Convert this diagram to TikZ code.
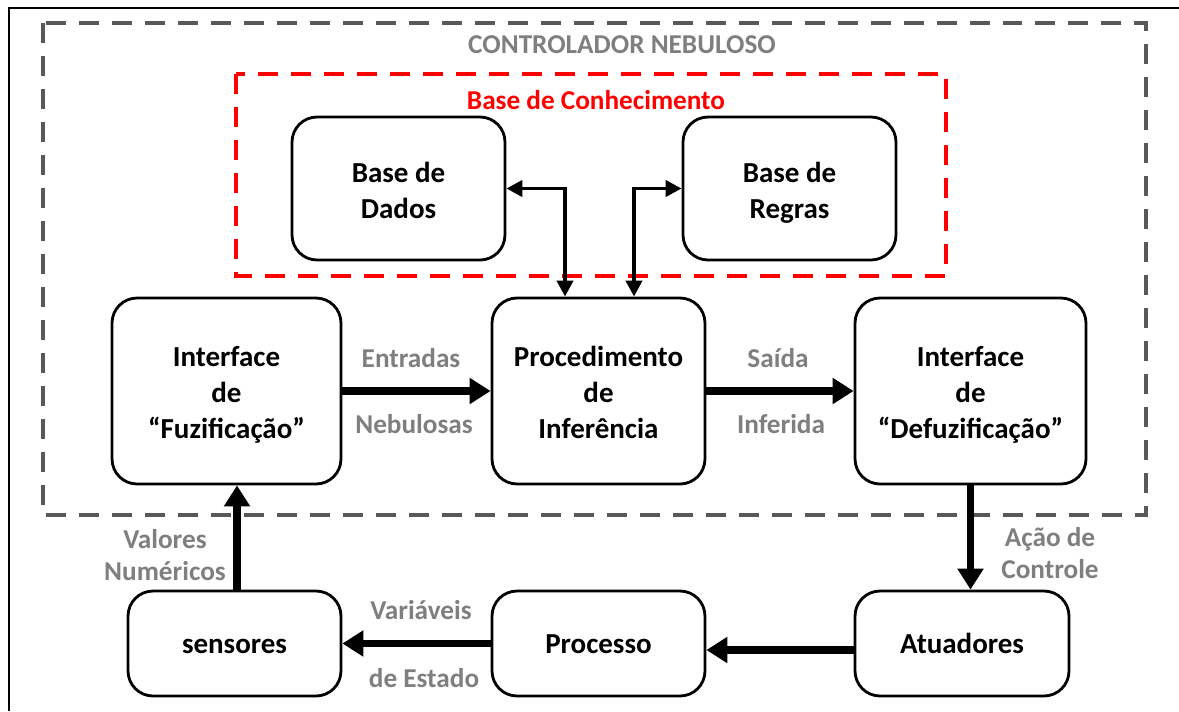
\documentclass[tikz,border=0pt]{standalone}
\usepackage{fontspec}
\setmainfont{Carlito}
\usetikzlibrary{arrows.meta}
\definecolor{dashgray}{HTML}{595959}
\definecolor{labgray}{HTML}{7F7F7F}
\definecolor{kred}{HTML}{FF0000}
\newcommand\myhigh{\rule{0pt}{19.5pt}}
\newcommand\mylow{\rule{0pt}{18pt}}
\tikzset{
  box/.style={draw=black, line width=1.6pt, rounded corners=0.5cm, fill=white,
    align=center, inner sep=0pt, font=\bfseries\fontsize{16.5}{20.5}\selectfont,
    execute at end node={\strut}},
  lab/.style={text=labgray, align=center, inner sep=0pt, font=\bfseries\fontsize{15.5}{18.7}\selectfont},
  bigarrow/.style={line width=4.3pt, -{Triangle[length=0.42cm,width=0.5cm]}},
  thinarrow/.style={line width=2.2pt, {Triangle[length=0.32cm,width=0.32cm]}-{Triangle[length=0.32cm,width=0.32cm]}},
}
\begin{document}
\begin{tikzpicture}[x=0.02cm,y=-0.02cm]
\useasboundingbox (0,0) rectangle (1179,711);
\fill[white] (0,0) rectangle (1179,711);
% outer frame
\draw[line width=0.9pt] (9,711) -- (9,8) -- (1179,8);
% dashed containers
\draw[dashgray, line width=2.2pt, dash pattern=on 0.4cm off 0.26cm] (43,23) rectangle (1146,515);
\node[lab] (title) at (622,45) {CONTROLADOR NEBULOSO};
\draw[kred, line width=2.2pt, dash pattern=on 0.4cm off 0.26cm] (236,74) rectangle (946,276);
\node[text=kred, inner sep=0pt, font=\bfseries\fontsize{15.5}{18.7}\selectfont] (kb) at (596,100) {Base de Conhecimento};
% boxes
\node[box, minimum width=4.26cm, minimum height=2.86cm] (dados) at (398.5,188.5) {\myhigh Base de\\Dados};
\node[box, minimum width=4.26cm, minimum height=2.86cm] (regras) at (789.5,188.5) {\myhigh Base de\\Regras};
\node[box, minimum width=4.58cm, minimum height=3.72cm] (fuz) at (226.5,391) {\myhigh Interface\\de\\“Fuzificação”};
\node[box, minimum width=4.26cm, minimum height=3.72cm] (proc) at (598.5,391) {\myhigh Procedimento\\de\\Inferência};
\node[box, minimum width=4.62cm, minimum height=3.72cm] (defuz) at (970.5,391) {\myhigh Interface\\de\\“Defuzificação”};
\node[box, minimum width=4.26cm, minimum height=2.1cm] (sens) at (234.5,643.5) {\mylow sensores};
\node[box, minimum width=4.26cm, minimum height=2.1cm] (processo) at (598.5,643.5) {\mylow Processo};
\node[box, minimum width=4.28cm, minimum height=2.1cm] (atu) at (962,643.5) {\mylow Atuadores};
% knowledge base arrows
\draw[thinarrow] (dados.east) -| ([xshift=-0.67cm]proc.north);
\draw[thinarrow] (regras.west) -| ([xshift=0.71cm]proc.north);
% main arrows
\draw[bigarrow] (fuz.east) -- (proc.west);
\draw[bigarrow] (proc.east) -- (defuz.west);
\draw[bigarrow] (defuz.south) -- (defuz.south |- atu.north);
\draw[bigarrow] ([yshift=-0.13cm]atu.west) -- ([yshift=-0.13cm]processo.east);
\draw[bigarrow] (processo.west) -- (sens.east);
\draw[bigarrow] ([xshift=0.05cm]sens.north) -- ([xshift=0.05cm]sens.north |- fuz.south);
% labels
\node[lab] (l1) at (411,358) {Entradas};
\node[lab] (l2) at (414,424) {Nebulosas};
\node[lab] (l3) at (778,358) {Saída};
\node[lab] (l4) at (781,424) {Inferida};
\node[lab] (l5) at (1050,553) {Ação de\\Controle};
\node[lab] (l6) at (165,555) {Valores\\Numéricos};
\node[lab] (l7) at (421,610) {Variáveis};
\node[lab] (l8) at (424,678) {de Estado};
\end{tikzpicture}
\end{document}
